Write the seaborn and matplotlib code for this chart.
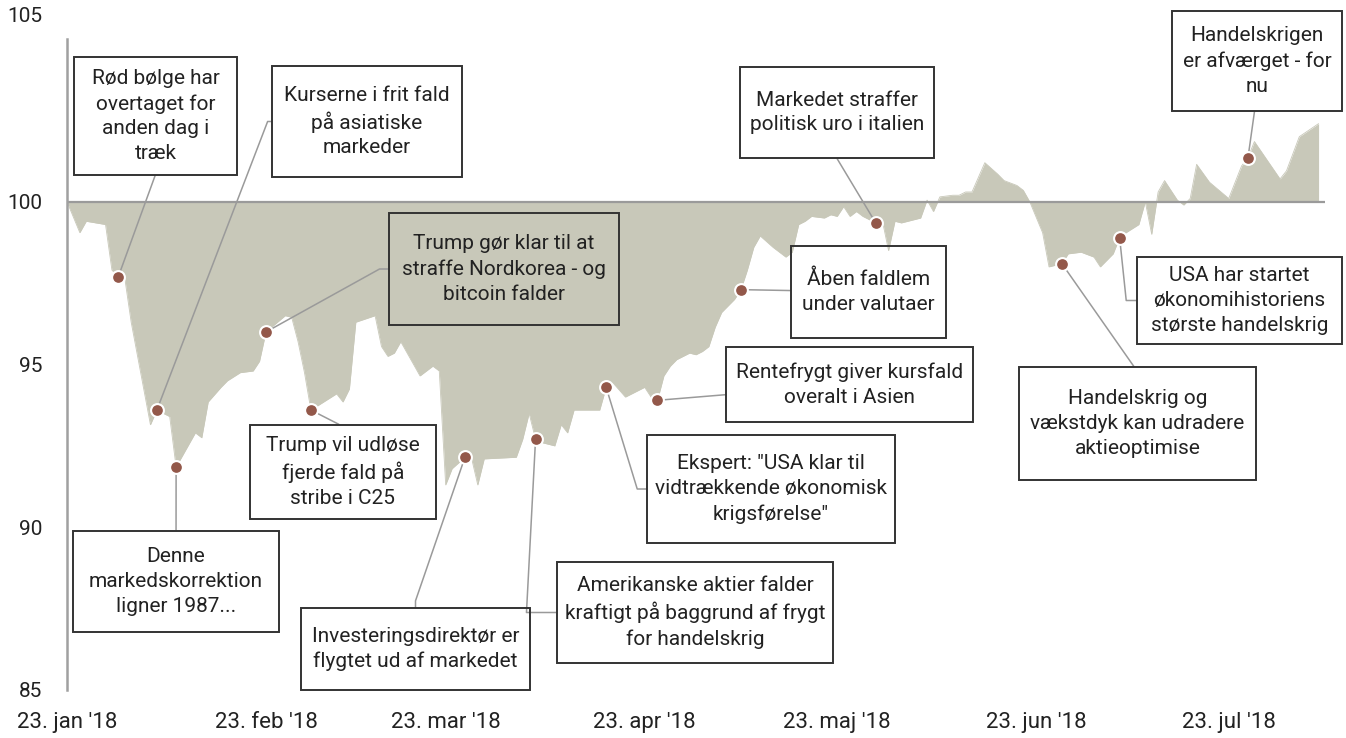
import numpy as np
import pandas as pd
import matplotlib
matplotlib.use("Agg")
import matplotlib.pyplot as plt
import matplotlib.dates as mdates
import matplotlib.transforms as mtransforms
from matplotlib.patches import Rectangle
import seaborn as sns

# ---------------- data ----------------
start_date = "2018-01-23"
days_since_start = [0, 2, 3, 6, 7, 8, 9, 10, 11, 13, 14, 16, 17, 20, 21, 22, 24, 25, 27, 29,
                    30, 31, 34, 35, 36, 37, 38, 40, 42, 43, 44, 45, 48, 49, 50, 51, 52, 54, 55, 57,
                    58, 59, 60, 62, 63, 64, 65, 70, 71, 72, 73, 74, 76, 77, 78, 79, 83, 84, 85, 87,
                    90, 91, 92, 93, 94, 95, 97, 98, 99, 100, 101, 102, 104, 105, 106, 107, 108, 110, 112, 113,
                    114, 115, 116, 118, 119, 120, 121, 122, 123, 124, 126, 127, 128, 129, 130, 132, 133, 134, 135, 136,
                    138, 139, 140, 141, 143, 145, 146, 148, 149, 150, 152, 153, 155, 156, 158, 160, 161, 163, 164, 165,
                    167, 168, 169, 170, 171, 173, 174, 175, 176, 178, 181, 183, 184, 185, 189, 190, 192, 195]
index_values = [100.0, 99.05, 99.4, 99.3, 97.9, 97.7, 97.65, 96.3, 95.25, 93.15, 93.6, 93.4, 91.85, 92.9, 92.75, 93.85, 94.3, 94.5, 94.75, 94.8,
                95.1, 96.0, 96.5, 96.45, 95.7, 94.75, 93.6, 93.85, 94.1, 93.85, 94.25, 96.3, 96.5, 95.55, 95.25, 95.35, 95.7, 95.0, 94.65, 94.95,
                94.8, 91.3, 91.8, 92.15, 92.15, 91.3, 92.1, 92.15, 92.7, 93.5, 92.7, 92.6, 92.5, 93.15, 92.9, 93.6, 93.6, 94.3, 94.45, 94.0,
                94.3, 94.0, 93.9, 94.65, 94.95, 95.15, 95.35, 95.3, 95.4, 95.55, 96.15, 96.6, 97.0, 97.3, 97.9, 98.6, 98.95, 98.6, 98.3, 98.45,
                99.3, 99.4, 99.55, 99.5, 99.6, 99.55, 99.85, 99.55, 99.7, 99.55, 99.35, 99.45, 98.5, 99.4, 99.35, 99.45, 99.5, 100.05, 99.7, 100.15,
                100.2, 100.2, 100.3, 100.3, 101.2, 100.85, 100.65, 100.5, 100.35, 100.0, 99.05, 98.0, 98.1, 98.4, 98.45, 98.3, 98.0, 98.4, 98.9, 99.05,
                99.3, 100.0, 99.0, 100.3, 100.65, 100.05, 99.9, 100.1, 101.15, 100.6, 100.1, 101.1, 101.35, 101.85, 100.7, 100.95, 102.0, 102.4]
baseline = 100

event_days = [8, 14, 17, 31, 38, 62, 73, 84, 92, 105, 126, 155, 164, 184]
event_texts = [
    "Rød bølge har\novertaget for\nanden dag i\ntræk",
    "Kurserne i frit fald\npå asiatiske\nmarkeder",
    "Denne\nmarkedskorrektion\nligner 1987...",
    "Trump gør klar til at\nstraffe Nordkorea - og\nbitcoin falder",
    "Trump vil udløse\nfjerde fald på\nstribe i C25",
    "Investeringsdirektør er\nflygtet ud af markedet",
    "Amerikanske aktier falder\nkraftigt på baggrund af frygt\nfor handelskrig",
    "Ekspert: \"USA klar til\nvidtrækkende økonomisk\nkrigsførelse\"",
    "Rentefrygt giver kursfald\noveralt i Asien",
    "Åben faldlem\nunder valutaer",
    "Markedet straffer\npolitisk uro i italien",
    "Handelskrig og\nvækstdyk kan udradere\naktieoptimise",
    "USA har startet\nøkonomihistoriens\nstørste handelskrig",
    "Handelskrigen\ner afværget - for\nnu",
]

tick_days = [0, 31, 59, 90, 120, 151, 181]
tick_labels = ["23. jan '18", "23. feb '18", "23. mar '18", "23. apr '18",
               "23. maj '18", "23. jun '18", "23. jul '18"]
y_ticks = [85, 90, 95, 100, 105]

# ---------------- layout: boxes (left, top, right, bottom) in pixels from top-left ----------------
W, H = 1346, 738
box_layout = [
    ((74, 57, 237, 175), "angle,angleA=90,angleB=70,rad=0"),
    ((272, 66, 462, 177), "angle,angleA=0,angleB=69,rad=0"),
    ((73, 531, 279, 632), "arc3,rad=0"),
    ((389, 213, 619, 325), "angle,angleA=0,angleB=29,rad=0"),
    ((250, 425, 436, 519), "angle,angleA=90,angleB=-27,rad=0"),
    ((301, 608, 530, 690), "angle,angleA=90,angleB=71,rad=0"),
    ((557, 562, 833, 663), "angle,angleA=0,angleB=87,rad=0"),
    ((647, 435, 895, 543), "angle,angleA=0,angleB=-73,rad=0"),
    ((726, 347, 973, 422), "arc3,rad=0"),
    ((791, 246, 946, 338), "arc3,rad=0"),
    ((740, 67, 934, 158), "angle,angleA=90,angleB=121,rad=0"),
    ((1019, 367, 1256, 480), "angle,angleA=90,angleB=-55,rad=0"),
    ((1137, 257, 1342, 344), "angle,angleA=0,angleB=-84,rad=0"),
    ((1172, 11, 1342, 111), "angle,angleA=90,angleB=82,rad=0"),
]

# ---------------- styling ----------------
sns.set_theme(style="white")
plt.rcParams['font.family'] = ['Roboto', 'DejaVu Sans']

fill_color = "#c8c8b9"
dot_color = "#93584a"
text_color = "#222222"

t0 = pd.Timestamp(start_date)
dates = t0 + pd.to_timedelta(days_since_start, unit="D")
df = pd.DataFrame({"date": dates, "value": index_values})
value_by_day = dict(zip(days_since_start, index_values))

fig = plt.figure(figsize=(W / 100, H / 100), dpi=100)
ax = fig.add_axes([67 / W, 48 / H, 1258 / W, 651 / H])

ax.fill_between(df["date"], df["value"], baseline, color=fill_color, lw=0, zorder=1)
sns.lineplot(data=df, x="date", y="value", color=fill_color, lw=0.6, ax=ax, zorder=1)
ax.axhline(baseline, color="#9a9a9a", lw=1.6, zorder=2)

ev_dates = t0 + pd.to_timedelta(event_days, unit="D")
ev_vals = [value_by_day[d] for d in event_days]
sns.scatterplot(x=ev_dates, y=ev_vals, s=85, color=dot_color, edgecolor="white",
                linewidth=1.5, ax=ax, zorder=8)

for d, v, txt, ((l, t, r, b), cs) in zip(event_days, ev_vals, event_texts, box_layout):
    rect = Rectangle((l / W, 1 - b / H), (r - l) / W, (b - t) / H, transform=fig.transFigure,
                     fc="none", ec="#333333", lw=1.4, zorder=6)
    fig.add_artist(rect)
    cx, cy = (l + r) / 2, H - (t + b) / 2
    fig.text(cx / W, cy / H, txt, ha="center", va="center", fontsize=15, color=text_color,
             linespacing=1.38, zorder=7)
    xnum = mdates.date2num(t0 + pd.Timedelta(days=d))
    ax.annotate("", xy=(xnum, v), xycoords="data",
                xytext=(cx, cy), textcoords="figure pixels",
                arrowprops=dict(arrowstyle="-", color="#9a9a9a", lw=1.1,
                                shrinkA=0, shrinkB=0, patchA=rect, connectionstyle=cs),
                zorder=5, annotation_clip=False)

ax.set_ylim(85, 105)
ax.set_xlim(t0, t0 + pd.Timedelta(days=196))
ax.set_yticks(y_ticks)
ax.set_yticklabels([str(t) for t in y_ticks])
ax.set_xticks(t0 + pd.to_timedelta(tick_days, unit="D"))
ax.set_xticklabels(tick_labels)
ax.set_xlabel("")
ax.set_ylabel("")
ax.tick_params(axis="both", length=0, labelcolor=text_color)
ax.tick_params(axis="y", pad=18, labelsize=15)
ax.tick_params(axis="x", pad=16, labelsize=16)
# top label sits higher in the reference
top_lbl = ax.get_yticklabels()[-1]
top_lbl.set_transform(top_lbl.get_transform() +
                      mtransforms.ScaledTranslation(0, 24 / 100, fig.dpi_scale_trans))
for s in ["top", "right", "bottom"]:
    ax.spines[s].set_visible(False)
ax.spines["left"].set_color("#a0a0a0")
ax.spines["left"].set_linewidth(1.8)
ax.set_facecolor("white")

fig.savefig("out.png", dpi=100, facecolor="white")
